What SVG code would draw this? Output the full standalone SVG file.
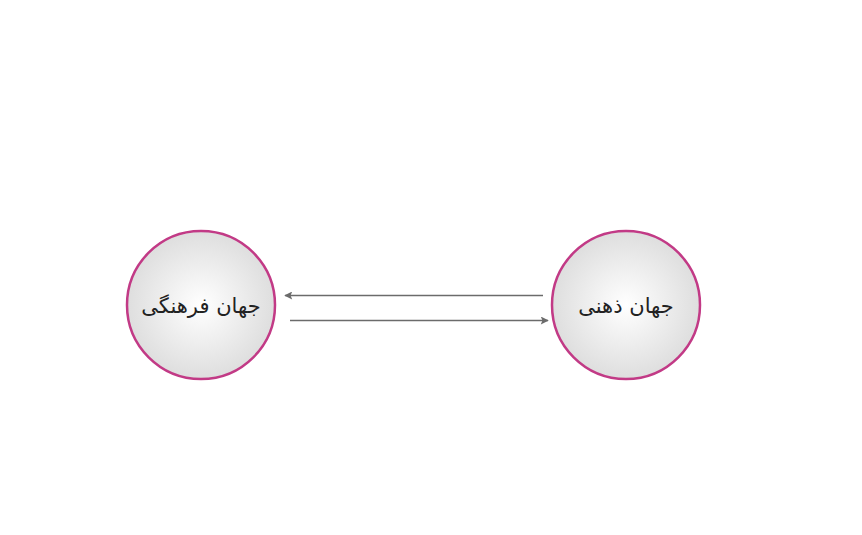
<svg xmlns="http://www.w3.org/2000/svg" width="862" height="535" viewBox="0 0 862 535">
<style>
.node circle{fill:url(#g);stroke:#c23a86;stroke-width:2.5}
.node text{font-family:"DejaVu Sans","Noto Sans","Liberation Sans",sans-serif;font-size:21px;fill:#222;text-anchor:middle;direction:rtl}
.conn line{stroke:#6b6b6b;stroke-width:1.6;marker-end:url(#ah)}
</style>
<defs>
<radialGradient id="g" cx="50%" cy="50%" r="50%">
<stop offset="0" stop-color="#ffffff"/>
<stop offset="1" stop-color="#dedede"/>
</radialGradient>
<marker id="ah" viewBox="0 0 10 10" refX="9" refY="5" markerWidth="9" markerHeight="8" markerUnits="userSpaceOnUse" orient="auto">
<path d="M0,0 L10,5 L0,10 L2,5 z" fill="#6b6b6b"/>
</marker>
</defs>
<rect width="862" height="535" fill="#fff"/>
<g id="node-cultural" class="node">
<circle cx="201" cy="305" r="74"/>
<text x="201" y="313">جهان فرهنگی</text>
</g>
<g id="node-mental" class="node">
<circle cx="626" cy="305" r="74"/>
<text x="626" y="313">جهان ذهنی</text>
</g>
<g id="connectors" class="conn">
<line x1="543" y1="295.5" x2="285" y2="295.5"/>
<line x1="290" y1="320.5" x2="548" y2="320.5"/>
</g>
</svg>
